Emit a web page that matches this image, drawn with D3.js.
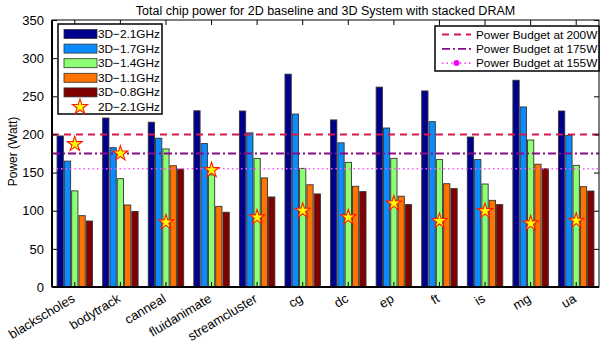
<!DOCTYPE html>
<html><head><meta charset="utf-8">
<script src="https://cdn.jsdelivr.net/npm/d3@7"></script>
<style>body{margin:0;background:#fff;} svg{display:block;font-family:"Liberation Sans",Arial,Helvetica,sans-serif;}</style>
</head><body>
<svg id="c" width="600" height="345"></svg>
<script>
const categories = ["blackscholes","bodytrack","canneal","fluidanimate","streamcluster","cg","dc","ep","ft","is","mg","ua"];
const seriesNames = ["3D\u22122.1GHz","3D\u22121.7GHz","3D\u22121.4GHz","3D\u22121.1GHz","3D\u22120.8GHz"];
const seriesColors = ["#00008f","#0a8cff","#8cff73","#ff7300","#800000"];
const s3D_21 = [198,221.5,216,231,230.7,279,219,262,257,196.6,271,230.7];
const s3D_17 = [165,182.6,195,188,202,226.7,189,208.4,216.7,167,236,198.8];
const s3D_14 = [126,142,181,147,168.6,155.5,163.4,168.6,167,135,192.7,159.5];
const s3D_11 = [93.5,107.5,159,105.7,143,134,132,119,135.4,113.6,161,131.5];
const s3D_08 = [86.5,99,154.6,98,118,122,125,108,129,108,155,125.8];
const s2D_21 = [187.4,175,84.8,153.3,91.3,100,91.3,109.6,86.5,99.6,83.5,87];
const starName = "2D\u22122.1GHz";
const budgets = [200,175,155];
const budgetNames = ["Power Budget at 200W","Power Budget at 175W","Power Budget at 155W"];
const yTicks = [0,50,100,150,200,250,300,350];
const titleText = "Total chip power for 2D baseline and 3D System with stacked DRAM";
const yLabel = "Power (Watt)";

const series = [s3D_21,s3D_17,s3D_14,s3D_11,s3D_08];
const svg = d3.select("#c");
const L=52,R=599,T=20,B=287;
const x = d3.scaleBand().domain(categories).range([L,R]).paddingInner(0).paddingOuter(0);
const bw = x.bandwidth();
const x1 = d3.scaleBand().domain(d3.range(5)).range([-0.4*bw,0.4*bw]).paddingInner(0.14).paddingOuter(0.07);
const y = d3.scaleLinear().domain([0,350]).range([B,T]);

// bars
series.forEach((arr,si)=>{
  svg.append("g").selectAll("rect").data(arr).join("rect")
    .attr("x",(d,i)=>x(categories[i])+bw/2+x1(si))
    .attr("y",d=>y(d))
    .attr("width",x1.bandwidth())
    .attr("height",d=>B-y(d))
    .attr("fill",seriesColors[si])
    .attr("stroke","#333").attr("stroke-width",0.9);
});

// budget lines
const bStyles=[{c:"#d8164a",da:"7,5",w:2},{c:"#8a0a8a",da:"8,3,2,3",w:1.8},{c:"#ff55ff",da:"1.5,3",w:1.6}];
budgets.forEach((b,i)=>{
  svg.append("line").attr("x1",L).attr("x2",R).attr("y1",y(b)).attr("y2",y(b))
    .attr("stroke",bStyles[i].c).attr("stroke-width",bStyles[i].w).attr("stroke-dasharray",bStyles[i].da);
});

// stars
const star = d3.symbol().type(d3.symbolStar).size(70);
svg.append("g").selectAll("path").data(s2D_21).join("path")
  .attr("d",star)
  .attr("transform",(d,i)=>`translate(${x(categories[i])+bw/2},${y(d)})`)
  .attr("fill","#ffff00").attr("stroke","#ff1a00").attr("stroke-width",1.1);

// axes box
svg.append("rect").attr("x",L).attr("y",T).attr("width",R-L).attr("height",B-T)
  .attr("fill","none").attr("stroke","#000").attr("stroke-width",1);
svg.append("line").attr("x1",L).attr("x2",R).attr("y1",B).attr("y2",B).attr("stroke","#000").attr("stroke-width",2);
svg.append("line").attr("x1",L).attr("x2",L).attr("y1",T).attr("y2",B).attr("stroke","#000").attr("stroke-width",2);

// y axis
const yAxis = d3.axisLeft(y).tickValues(yTicks).tickSize(-5).tickPadding(8);
const gy = svg.append("g").attr("transform",`translate(${L},0)`).call(yAxis);
gy.select(".domain").remove();
gy.selectAll("text").attr("font-size",13).attr("fill","#000").attr("font-family","Liberation Sans, Arial, sans-serif");
const yAxisR = d3.axisRight(y).tickValues(yTicks).tickSize(-5).tickFormat("");
const gyr = svg.append("g").attr("transform",`translate(${R},0)`).call(yAxisR);
gyr.select(".domain").remove();

// x axis ticks
const xAxis = d3.axisBottom(x).tickSize(-5).tickFormat("");
const gx = svg.append("g").attr("transform",`translate(0,${B})`).call(xAxis);
gx.select(".domain").remove();
const xAxisT = d3.axisTop(x).tickSize(-5).tickFormat("");
const gxt = svg.append("g").attr("transform",`translate(0,${T})`).call(xAxisT);
gxt.select(".domain").remove();

// x labels rotated
svg.append("g").selectAll("text").data(categories).join("text")
  .attr("transform",d=>`translate(${x(d)+bw/2+1},${B+14}) rotate(-31)`)
  .attr("text-anchor","end").attr("font-size",13).attr("fill","#000")
  .text(d=>d);

// title
svg.append("text").attr("x",(L+R)/2).attr("y",15).attr("text-anchor","middle")
  .attr("font-size",12.5).text(titleText);
// y label
svg.append("text").attr("transform",`translate(17,${(T+B)/2-2}) rotate(-90)`).attr("text-anchor","middle")
  .attr("font-size",12).text(yLabel);

// legend 1
const lg1 = svg.append("g");
lg1.append("rect").attr("x",58).attr("y",24).attr("width",104).attr("height",90)
  .attr("fill","#fff").attr("stroke","#000").attr("stroke-width",1.5);
const rowY = d3.range(6).map(i=>34+i*14.6);
seriesNames.forEach((n,i)=>{
  lg1.append("rect").attr("x",64).attr("y",rowY[i]-4.5).attr("width",33).attr("height",9)
    .attr("fill",seriesColors[i]).attr("stroke","#333").attr("stroke-width",0.8);
  lg1.append("text").attr("x",98).attr("y",rowY[i]+4).attr("font-size",11.8).text(n);
});
lg1.append("path").attr("d",star).attr("transform",`translate(80,${rowY[5]})`)
  .attr("fill","#ffff00").attr("stroke","#ff1a00").attr("stroke-width",1.1);
lg1.append("text").attr("x",98).attr("y",rowY[5]+4).attr("font-size",11.8).text(starName);

// legend 2
const lg2 = svg.append("g");
lg2.append("rect").attr("x",435).attr("y",26).attr("width",164).attr("height",45)
  .attr("fill","#fff").attr("stroke","#000").attr("stroke-width",1.5);
budgetNames.forEach((n,i)=>{
  const yy = 34.5+i*14.3;
  lg2.append("line").attr("x1",442).attr("x2",471).attr("y1",yy).attr("y2",yy)
    .attr("stroke",bStyles[i].c).attr("stroke-width",bStyles[i].w).attr("stroke-dasharray",bStyles[i].da);
  if(i===2){
    lg2.append("circle").attr("cx",456.5).attr("cy",yy).attr("r",3).attr("fill","#ff00ff");
  }
  lg2.append("text").attr("x",476).attr("y",yy+4).attr("font-size",11.8).text(n);
});
</script>
</body></html>
